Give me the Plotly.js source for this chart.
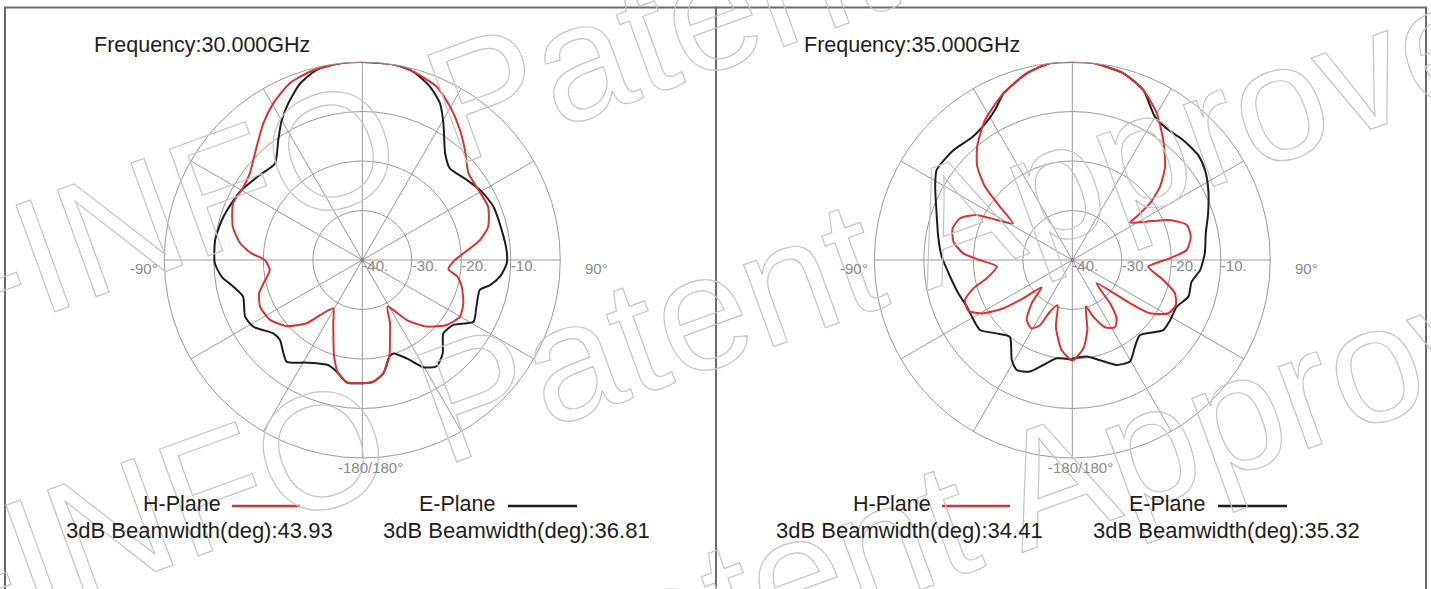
<!DOCTYPE html>
<html>
<head>
<meta charset="utf-8">
<script src="https://cdn.plot.ly/plotly-3.0.1.min.js"></script>
<style>
html,body{margin:0;padding:0;background:#fff;}
#chart{width:1431px;height:589px;}
</style>
</head>
<body>
<div id="chart"></div>
<script>
// ---- Data (theta: deg clockwise from top, r: dB) ----
const h30Theta = [-180,-172.7,-168,-163.7,-158.4,-155.4,-149,-143.8,-138.7,-131.1,-123,-114.5,-107.9,-103.3,-96.2,-90,-86.6,-82.2,-75.6,-66.3,-58.4,-52.3,-43,-35.9,-29.6,-22.3,-14.5,-6.4,0,8.9,14.1,23.2,29.8,36.9,43,50.7,58.9,67,75.2,80.4,86.2,90,96,99.9,105,113.2,120.1,127.6,136,143.5,151.5,156.4,160.9,164.4,169.5,174.8,180];
const h30R     = [-15.1,-15.1,-16.6,-19.7,-24.1,-25.9,-28.6,-26.7,-23,-19.7,-17.8,-17.3,-18.1,-19.5,-21.2,-20.3,-17.6,-15.1,-13,-11.5,-11.8,-11.3,-8.7,-5.9,-3.6,-1.4,-0.4,0,0,0,-0.4,-1.9,-4.3,-7.15,-9.6,-12.3,-12.6,-12.4,-13.7,-15.9,-19.5,-21.3,-22.5,-20.5,-19.2,-17.8,-17.2,-18.5,-21.3,-24.9,-29.3,-26,-22.9,-19.7,-16.7,-15.3,-15.1];

const e30Theta = [-180,-172.7,-168,-165,-162,-151.5,-143.3,-134.2,-129.5,-121.5,-115.8,-107.1,-101.7,-96.8,-91.3,-82.3,-74.1,-66.6,-59.9,-50.3,-42.1,-35,-30.3,-25.3,-19.4,-13.5,-6.4,0,8.9,15.2,21.3,26.4,30.7,37.8,43.7,52.5,60.2,67.8,77.8,86,91.3,96.9,101.1,104.3,112.2,119,125.5,132.2,139.3,145,150.4,155.7,161.6,164.4,169.5,174.8,180];
const e30R     = [-15.1,-15.1,-16.6,-17.3,-17.7,-16.4,-14.4,-16.8,-16.7,-14.2,-13.7,-14.8,-13.4,-11.4,-10.2,-10,-10.5,-11.2,-11.8,-13.1,-13.7,-10.4,-7.6,-5,-2.2,-0.5,0,0,0,-0.6,-2.4,-4.7,-7.9,-12.7,-14.4,-13.4,-12.2,-11.4,-11.2,-10.8,-10.8,-12,-13.7,-15.5,-15.1,-14.3,-17.4,-17.9,-15.1,-13.8,-15.1,-18.2,-20.1,-19.7,-16.7,-15.3,-15.1];

const h35Theta = [-180,-173.2,-166.2,-162,-156.6,-153.6,-149.2,-142.7,-136.8,-131.7,-128,-125,-120.9,-116,-110.4,-106,-102.1,-95,-90,-86.5,-81.2,-75.2,-69.6,-64.8,-62.1,-58.4,-53.6,-50,-45.5,-40,-32,-22.5,-13.7,-6.5,0,6,15.3,22.7,29.9,37.2,44.8,50.1,53.9,56,57.1,62.7,67.7,73,78.8,85,89,95,102.4,108,113.5,119,124.5,126.9,133.8,139,142.8,147.6,154.1,159.7,163.7,167.9,172.9,180];
const h35R     = [-19.7,-21.7,-26.1,-30.4,-28.6,-25.3,-23.9,-24.8,-28,-31.7,-27.4,-23,-19,-16.6,-16.9,-19.2,-22.3,-24.7,-21.3,-17.9,-15.7,-15,-15.8,-18.6,-22.7,-25.9,-21.8,-17,-13.1,-10.1,-6.7,-3.6,-1.2,0,0,0,-0.9,-2.8,-5.8,-9.6,-13.4,-16.9,-20.6,-24.3,-26.1,-23.1,-18.7,-15.8,-15.6,-16.8,-20.3,-24.6,-21.2,-18.2,-17.2,-17.8,-21,-25.4,-33.2,-28.4,-25.2,-23.9,-24.9,-27.8,-30.2,-25.5,-22,-19.7];

const e35Theta = [-180,-171,-164.6,-159.2,-153.2,-148.8,-140.9,-134.1,-127.2,-119.4,-113.8,-106.3,-97.8,-88.5,-80.1,-71,-61.9,-56.4,-47.3,-38.8,-31,-26.3,-22.5,-13.7,-6.5,0,6,15.3,22.7,30,35.6,42.8,50.2,55.8,62.8,71.1,78.7,87.1,94.5,100.3,107.5,114.1,121.6,127.6,138,144.1,150.4,157.1,164.5,171.6,180];
const e35R     = [-19.9,-19.9,-18,-15.9,-15.1,-16.4,-20,-18.7,-16.6,-16.7,-16.7,-16,-15.1,-13.6,-12.5,-11,-8.6,-7.1,-7.3,-8,-7,-5.5,-3.6,-1.2,0,0,0,-0.9,-2.8,-6.6,-7.3,-7,-6.9,-7.6,-9.1,-11,-12.5,-13.2,-14.1,-15.5,-15.4,-16.9,-16.8,-16.8,-19.6,-18.4,-16.4,-17,-19,-20.3,-20.1];

const radialTicks = [-40, -30, -20, -10];
const radialTickText = ["-40.", "-30.", "-20.", "-10."];
const frequencies = ["Frequency:30.000GHz", "Frequency:35.000GHz"];
const hBeamwidths = ["43.93", "34.41"];
const eBeamwidths = ["36.81", "35.32"];
const watermarkText = "A-INFO Patent Approved";

// ---- Layout helpers ----
const W = 1431, H = 589;
const px = x => x / W;
const py = y => 1 - y / H;
const RED = '#dc3232', BLACK = '#1e1e1e', GRID = '#9a9a9a';
const R = 198, CY = 260;
const centers = [362.3, 1072.3];
const FONT = 'Liberation Sans, Arial, sans-serif';

function polarLayout(cx) {
  return {
    domain: {x: [px(cx - R), px(cx + R)], y: [py(CY + R), py(CY - R)]},
    bgcolor: 'rgba(0,0,0,0)',
    angularaxis: {
      rotation: 90, direction: 'clockwise', tickmode: 'linear', tick0: 0, dtick: 30,
      showticklabels: false, ticks: '', showline: true, linecolor: GRID, linewidth: 1,
      gridcolor: GRID, gridwidth: 1
    },
    radialaxis: {
      range: [-40, 0], tickvals: [-30, -20, -10], showticklabels: false, ticks: '',
      showline: false, gridcolor: GRID, gridwidth: 1, angle: 0
    }
  };
}

const traces = [];
function addPanel(sub, hT, hR, eT, eR) {
  traces.push({type: 'scatterpolar', subplot: sub, mode: 'lines', theta: eT, r: eR,
    line: {color: BLACK, width: 2, shape: 'spline', smoothing: 0.6}, hoverinfo: 'skip'});
  traces.push({type: 'scatterpolar', subplot: sub, mode: 'lines', theta: hT, r: hR,
    line: {color: RED, width: 2, shape: 'spline', smoothing: 0.6}, hoverinfo: 'skip'});
  traces.push({type: 'scatterpolar', subplot: sub, mode: 'text', theta: radialTicks.map(() => 90),
    r: radialTicks, text: radialTickText, textposition: 'bottom right',
    textfont: {family: FONT, size: 15, color: '#8a8a8a'},
    hoverinfo: 'skip', cliponaxis: false});
  traces.push({type: 'scatterpolar', subplot: sub, mode: 'markers', theta: [0], r: [-40],
    marker: {color: '#888', size: 4}, hoverinfo: 'skip'});
}
addPanel('polar', h30Theta, h30R, e30Theta, e30R);
addPanel('polar2', h35Theta, h35R, e35Theta, e35R);

const annotations = [];
const shapes = [];

// watermark (outlined after render)
[[723, 8], [713, 308], [808, 570]].forEach(c => {
  annotations.push({text: watermarkText, xref: 'paper', yref: 'paper', x: px(c[0]), y: py(c[1]),
    xanchor: 'center', yanchor: 'middle', showarrow: false, textangle: -20,
    font: {family: FONT, size: 165, color: 'rgba(0,0,0,0)'}});
});

function ann(text, x, y, xanchor, size, color) {
  annotations.push({text: text, xref: 'paper', yref: 'paper', x: px(x), y: py(y),
    xanchor: xanchor, yanchor: 'middle', showarrow: false,
    font: {family: FONT, size: size, color: color}});
}
centers.forEach((cx, i) => {
  const off = cx - centers[0];
  ann(frequencies[i], 92 + off, 45, 'left', 21.5, '#1e1e1e');
  ann('-90°', 160 + off, 268, 'right', 15, '#8a8a8a');
  ann('90°', 583 + off, 268, 'left', 15, '#8a8a8a');
  ann('-180/180°', 370 + off, 467, 'center', 15, '#8a8a8a');
  ann('H-Plane', 223 + off, 504, 'right', 21.5, '#1e1e1e');
  ann('E-Plane', 498 + off, 504, 'right', 21.5, '#1e1e1e');
  ann('3dB Beamwidth(deg):' + hBeamwidths[i], 64 + off, 530, 'left', 22, '#1e1e1e');
  ann('3dB Beamwidth(deg):' + eBeamwidths[i], 381 + off, 530, 'left', 22, '#1e1e1e');
  shapes.push({type: 'line', xref: 'paper', yref: 'paper', x0: px(232 + off), x1: px(300 + off),
    y0: py(506), y1: py(506), line: {color: RED, width: 2.5}});
  shapes.push({type: 'line', xref: 'paper', yref: 'paper', x0: px(508 + off), x1: px(577 + off),
    y0: py(506), y1: py(506), line: {color: BLACK, width: 2.5}});
});
// panel frames
shapes.push({type: 'rect', xref: 'paper', yref: 'paper', x0: px(5), x1: px(716), y0: -0.05, y1: py(7.5),
  line: {color: '#6a6a6a', width: 2}, layer: 'below'});
shapes.push({type: 'rect', xref: 'paper', yref: 'paper', x0: px(716), x1: px(1426), y0: -0.05, y1: py(7.5),
  line: {color: '#6a6a6a', width: 2}, layer: 'below'});

const layout = {
  width: W, height: H, margin: {l: 0, r: 0, t: 0, b: 0},
  paper_bgcolor: '#fff', plot_bgcolor: '#fff', showlegend: false,
  polar: polarLayout(centers[0]), polar2: polarLayout(centers[1]),
  annotations: annotations, shapes: shapes,
  font: {family: FONT}
};
Plotly.newPlot('chart', traces, layout, {staticPlot: true, displayModeBar: false}).then(() => {
  document.querySelectorAll('.annotation-text').forEach(el => {
    if (el.textContent === watermarkText) {
      el.style.setProperty('fill', 'none');
      el.style.setProperty('stroke', '#c6c6c6');
      el.style.setProperty('stroke-width', '1.2px');
    }
  });
});
</script>
</body>
</html>
